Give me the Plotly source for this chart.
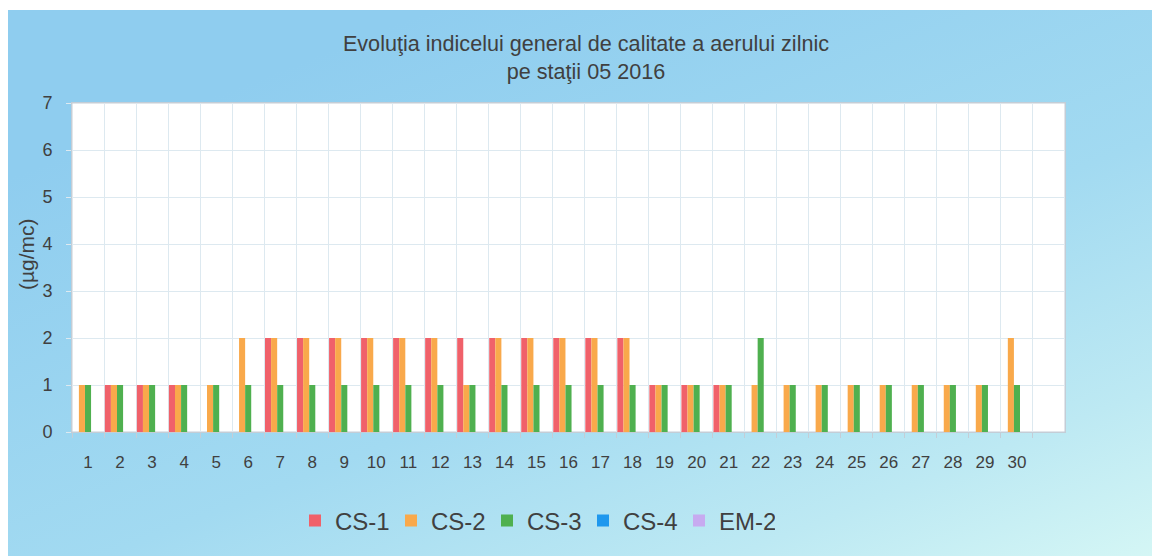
import base64
import plotly.graph_objects as go

days = list(range(1, 31))
day_labels = [str(d) for d in days]

cs1 = [0, 1, 1, 1, 0, 0, 2, 2, 2, 2, 2, 2, 2, 2, 2, 2, 2, 2, 1, 1, 1, 0, 0, 0, 0, 0, 0, 0, 0, 0]
cs2 = [1, 1, 1, 1, 1, 2, 2, 2, 2, 2, 2, 2, 1, 2, 2, 2, 2, 2, 1, 1, 1, 1, 1, 1, 1, 1, 1, 1, 1, 2]
cs3 = [1, 1, 1, 1, 1, 1, 1, 1, 1, 1, 1, 1, 1, 1, 1, 1, 1, 1, 1, 1, 1, 2, 1, 1, 1, 1, 1, 1, 1, 1]
cs4 = [0] * 30
em2 = [0] * 30

series_names = ["CS-1", "CS-2", "CS-3", "CS-4", "EM-2"]
series_values = [cs1, cs2, cs3, cs4, em2]
series_colors = ["#f0616a", "#f9a94b", "#4fb04f", "#1e98ee", "#c7aaf0"]

title_text = "Evoluţia indicelui general de calitate a aerului zilnic<br>pe staţii 05 2016"
y_title = "(µg/mc)"

W, H = 1152, 556
ML, MR, MT, MB = 72, 87, 103, 124
PW, PH = W - ML - MR, H - MT - MB

svg = f'''<svg xmlns="http://www.w3.org/2000/svg" width="{W}" height="{H}" viewBox="0 0 {W} {H}" preserveAspectRatio="none">
<defs><linearGradient id="g" x1="0.25" y1="0.1" x2="1" y2="1">
<stop offset="0" stop-color="#8fcdef"/>
<stop offset="0.5" stop-color="#a2daf1"/>
<stop offset="0.8" stop-color="#bde9f3"/>
<stop offset="1" stop-color="#d4f6f5"/>
</linearGradient></defs>
<rect x="0" y="0" width="{W}" height="{H}" fill="#ffffff"/>
<rect x="8" y="10" width="{W-8}" height="{H-10}" fill="url(#g)"/>
</svg>'''
bg_uri = "data:image/svg+xml;base64," + base64.b64encode(svg.encode()).decode()

fig = go.Figure()
for name, vals, col in zip(series_names, series_values, series_colors):
    fig.add_trace(go.Bar(x=days, y=vals, name=name, marker=dict(color=col, line=dict(width=0))))

font_family = "Liberation Sans, Arial, sans-serif"
fig.update_layout(
    width=W, height=H,
    margin=dict(l=ML, r=MR, t=MT, b=MB, autoexpand=False),
    paper_bgcolor="#ffffff",
    plot_bgcolor="#ffffff",
    barmode="group",
    bargap=0.05,
    bargroupgap=0,
    font=dict(family=font_family, color="#404040"),
    title=dict(text=title_text, x=586 / W, xanchor="center", xref="container",
               y=1 - 51 / H, yanchor="middle", yref="container",
               font=dict(size=21.6, color="#404040")),
    showlegend=True,
    legend=dict(orientation="h", x=(535 - ML) / PW, xanchor="center", y=(MT + PH - 521) / PH,
                yanchor="middle", font=dict(size=24, color="#404040"), bgcolor="rgba(0,0,0,0)",
                entrywidth=51, itemwidth=30),
    images=[dict(source=bg_uri, xref="paper", yref="paper", x=-ML / PW, y=1 + MT / PH,
                 sizex=W / PW, sizey=H / PH, sizing="stretch", xanchor="left", yanchor="top",
                 layer="below")],
    shapes=[dict(type="rect", xref="paper", yref="paper", x0=0, x1=1, y0=0, y1=1,
                 fillcolor="#ffffff", line=dict(color="#c4cdd6", width=1), layer="below")],
    annotations=[dict(text=y_title, xref="paper", yref="paper", x=(26 - ML) / PW, y=(MT + PH - 254) / PH,
                      showarrow=False, textangle=-90, font=dict(size=21, color="#404040"),
                      xanchor="center", yanchor="middle")],
)
fig.update_xaxes(
    range=[0.5, 31.5], automargin=False,
    tickmode="array", tickvals=days, ticktext=day_labels,
    tickfont=dict(size=17, color="#404040"),
    showgrid=False, ticks="", ticklabelstandoff=15,
    showline=True, linecolor="#c4cdd6", linewidth=1, mirror=True,
    minor=dict(tickmode="array", tickvals=[d + 0.5 for d in range(0, 31)], showgrid=True,
               gridcolor="#dde9f0", gridwidth=1, ticks="outside", ticklen=5, tickcolor="#c4cdd6"),
    zeroline=False,
)
fig.update_yaxes(
    range=[0, 7], dtick=1, automargin=False,
    tickfont=dict(size=18, color="#404040"),
    showgrid=True, gridcolor="#dde9f0", gridwidth=1,
    ticks="outside", ticklen=5, tickcolor="#dde9f0", ticklabelstandoff=10,
    showline=True, linecolor="#c4cdd6", linewidth=1, mirror=True,
    zeroline=False,
)

fig.write_html("out.html", config={"displayModeBar": False},
               post_script="document.body.style.margin='0px';document.body.style.overflow='hidden';")
